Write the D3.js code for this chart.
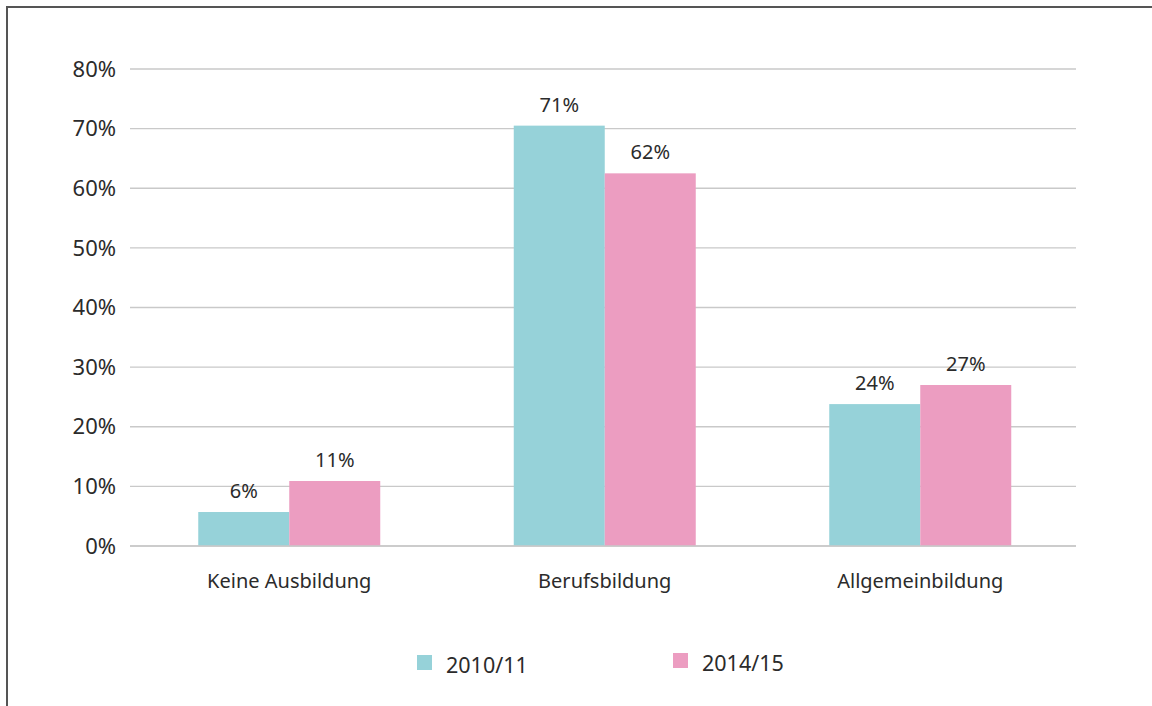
<!DOCTYPE html>
<html><head><meta charset="utf-8">
<script src="https://cdn.jsdelivr.net/npm/d3@7"></script>
<style>body{margin:0;background:#fff}svg{display:block}text{font-family:"Noto Sans",sans-serif;fill:#2b2b2b}</style>
</head><body><svg id="c" width="1152" height="706"></svg>
<script>
const categories = ["Keine Ausbildung", "Berufsbildung", "Allgemeinbildung"];
const seriesNames = ["2010/11", "2014/15"];
const values2010 = [5.7, 70.5, 23.8];
const values2014 = [10.9, 62.5, 27.0];
const labels2010 = ["6%", "71%", "24%"];
const labels2014 = ["11%", "62%", "27%"];
const yTicks = [0, 10, 20, 30, 40, 50, 60, 70, 80];
const colors = ["#96d2d9", "#ec9dc1"];

const svg = d3.select("#c");
// frame
svg.append("path").attr("d","M7,706 V7 H1152").attr("fill","none").attr("stroke","#555").attr("stroke-width",2);

const x = d3.scaleBand().domain(categories).range([131.5,1078]).paddingInner(0).paddingOuter(0);
const y = d3.scaleLinear().domain([0,80]).range([546,69]);
const inner = d3.scaleBand().domain(seriesNames).range([0,182]);
const off = (x.bandwidth()-182)/2;

const gy = svg.append("g");
gy.selectAll("line").data(yTicks).join("line")
  .attr("x1",130).attr("x2",1076).attr("y1",d=>y(d)).attr("y2",d=>y(d))
  .attr("stroke","#c9c9c9").attr("stroke-width",1.3);
gy.selectAll("text").data(yTicks).join("text")
  .attr("x",116).attr("y",d=>y(d)).attr("dy","0.35em").attr("text-anchor","end")
  .attr("font-size",22).text(d=>d+"%");

const series = [values2010, values2014];
const labs = [labels2010, labels2014];
series.forEach((vals,si)=>{
  const g = svg.append("g");
  g.selectAll("rect").data(categories).join("rect")
    .attr("x",(c)=>x(c)+off+inner(seriesNames[si]))
    .attr("width",inner.bandwidth())
    .attr("y",(c,i)=>y(vals[i]))
    .attr("height",(c,i)=>y(0)-y(vals[i]))
    .attr("fill",colors[si]);
  g.selectAll("text").data(categories).join("text")
    .attr("x",(c)=>x(c)+off+inner(seriesNames[si])+inner.bandwidth()/2)
    .attr("y",(c,i)=>y(vals[i])-14)
    .attr("text-anchor","middle").attr("font-size",20)
    .text((c,i)=>labs[si][i]);
});
svg.append("line").attr("x1",130).attr("x2",1076).attr("y1",y(0)).attr("y2",y(0)).attr("stroke","#c9c9c9").attr("stroke-width",1.5);

svg.append("g").selectAll("text").data(categories).join("text")
  .attr("x",c=>x(c)+x.bandwidth()/2).attr("y",588).attr("text-anchor","middle")
  .attr("font-size",20).text(d=>d);

const legX = [417, 673];
const legY = [655, 653];
const lg = svg.append("g");
seriesNames.forEach((s,i)=>{
  lg.append("rect").attr("x",legX[i]).attr("y",legY[i]).attr("width",15).attr("height",15).attr("fill",colors[i]);
  lg.append("text").attr("x",legX[i]+29).attr("y",legY[i]+18).attr("font-size",21.5).text(s);
});
</script></body></html>
